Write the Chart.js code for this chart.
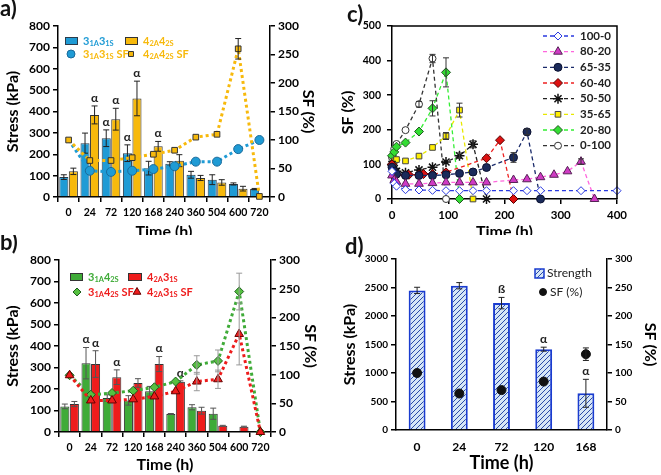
<!DOCTYPE html>
<html>
<head>
<meta charset="utf-8">
<script src="https://cdn.jsdelivr.net/npm/chart.js@4/dist/chart.umd.min.js"></script>
<style>
html, body { margin: 0; padding: 0; background: #fff; }
body { width: 661px; height: 475px; position: relative; overflow: hidden; }
.p { position: absolute; background: #fff; }
canvas { display: block; }
</style>
</head>
<body>
<div class="p" style="left:0;top:0;width:330px;height:250px"><canvas id="ca" width="330" height="250"></canvas></div>
<div class="p" style="left:330px;top:0;width:331px;height:250px"><canvas id="cc" width="331" height="250"></canvas></div>
<div class="p" style="left:0;top:235px;width:330px;height:240px"><canvas id="cb" width="330" height="240"></canvas></div>
<div class="p" style="left:330px;top:235px;width:331px;height:240px"><canvas id="cd" width="331" height="240"></canvas></div>
<script>
// ---- data: panel a ----
const times = ['0', '24', '72', '120', '168', '240', '360', '504', '600', '720'];
const a31Stress = [93, 252, 275, 205, 135, 155, 104, 81, 61, 37];
const a31Err = [11, 47, 39, 39, 32, 10, 16, 23, 5, 3];
const a31Marks = ['', '', 'α', 'α', '', '', '', '', '', ''];
const a42Stress = [120, 384, 364, 461, 237, 170, 89, 68, 39, 0];
const a42Err = [15, 42, 51, 81, 23, 28, 12, 13, 11, 0];
const a42Marks = ['', 'α', 'α', 'α', 'α', '', '', '', '', ''];
const a31Sf = [100, 46, 44, 46, 49, 54, 62, 62, 84, 100];
const a42Sf = [100, 64, 64, 69, 75, 82, 105, 110, 260, 1];
const a42SfErr = [0, 0, 0, 0, 0, 0, 0, 0, 18, 0];

// ---- data: panel b ----
const b31Stress = [119, 320, 158, 147, 189, 84, 115, 85, 0, 0];
const b31Err = [11, 73, 15, 22, 23, 2, 12, 26, 0, 0];
const b31Marks = ['', 'α', '', '', '', '', '', '', '', ''];
const b42Stress = [130, 316, 255, 228, 316, 234, 99, 29, 25, 0];
const b42Err = [12, 62, 34, 20, 35, 4, 16, 2, 2, 0];
const b42Marks = ['', 'α', 'α', '', 'α', 'α', '', '', '', ''];
const b31Sf = [99, 65, 68, 72, 78, 88, 117, 124, 245, 0];
const b31SfErr = [0, 0, 0, 0, 0, 0, 16, 19, 32, 0];
const b42Sf = [99, 55, 55, 57, 62, 71, 88, 92, 171, 0];
const b42SfErr = [0, 0, 0, 0, 0, 0, 16, 16, 54, 0];

// ---- data: panel c ----
const c100_0_t = [0, 4, 8, 24, 48, 72, 96, 120, 144, 168, 216, 240, 264, 336, 400];
const c100_0_sf = [80, 45, 37, 27, 26, 25, 24, 24, 24, 24, 24, 24, 24, 24, 24];
const c80_20_t = [0, 4, 8, 24, 48, 72, 96, 120, 144, 168, 216, 240, 264, 288, 312, 336, 360];
const c80_20_sf = [68, 55, 50, 44, 44, 46, 48, 48, 48, 48, 55, 57, 63, 70, 80, 108, 0];
const c80_20_err = [0, 0, 0, 0, 0, 0, 0, 0, 0, 0, 0, 0, 0, 0, 0, 8, 0];
const c65_35_t = [0, 4, 8, 24, 48, 72, 96, 120, 144, 168, 216, 240, 264];
const c65_35_sf = [92, 80, 72, 68, 68, 68, 70, 74, 78, 91, 120, 194, 0];
const c65_35_err = [0, 0, 0, 0, 0, 0, 0, 0, 0, 0, 14, 8, 0];
const c60_40_t = [0, 4, 8, 24, 30, 48, 56, 72, 96, 168, 192, 216];
const c60_40_sf = [100, 82, 70, 68, 70, 70, 72, 72, 77, 118, 170, 0];
const c50_50_t = [0, 4, 8, 24, 48, 72, 96, 120, 144, 168];
const c50_50_sf = [100, 88, 80, 76, 84, 92, 107, 125, 158, 0];
const c50_50_err = [0, 0, 0, 0, 0, 0, 0, 8, 10, 0];
const c35_65_t = [0, 4, 8, 24, 48, 72, 96, 120, 144];
const c35_65_sf = [100, 110, 114, 110, 124, 149, 182, 257, 0];
const c35_65_err = [0, 0, 0, 0, 0, 0, 10, 20, 0];
const c20_80_t = [0, 4, 8, 24, 48, 72, 96, 120];
const c20_80_sf = [125, 136, 151, 163, 195, 262, 366, 0];
const c20_80_err = [0, 0, 0, 0, 0, 22, 42, 0];
const c0_100_t = [0, 4, 8, 24, 48, 72, 96];
const c0_100_sf = [120, 145, 159, 199, 274, 406, 0];
const c0_100_err = [0, 0, 0, 0, 8, 12, 0];

// ---- data: panel d ----
const dTimes = ['0', '24', '72', '120', '168'];
const dStress = [2449, 2531, 2226, 1418, 644];
const dErr = [55, 55, 100, 35, 245];
const dMarks = ['', '', 'ß', 'α', 'α'];
const dSf = [100, 64, 70, 85, 133];
const dSfErr = [0, 0, 0, 0, 11];

const FONT = 'Lato, "Liberation Sans", sans-serif';

function tf(size) { return {family: FONT, size: size, weight: 'bold'}; }
function ttl(size) { return {family: FONT, size: size, weight: 'bold', lineHeight: 1.2}; }

function valueAxis(pos, max, step, width, text, pad, tsize, titleSize, padTick) {
  return {
    type: 'linear', position: pos, min: 0, max: max,
    ticks: {stepSize: step, color: '#000', font: tf(tsize), padding: padTick || 3, callback: v => String(v)},
    grid: {drawOnChartArea: false, tickLength: 5, color: '#000', lineWidth: 1.5},
    border: {color: '#000', width: 1.5},
    title: {display: true, text: text, color: '#000', font: ttl(titleSize || 16), padding: {top: pad, bottom: 0}},
    afterFit: function (s) { s.width = width; }
  };
}

function timeAxis(height, pad, tickLen, tsize, tickPad, titleSize) {
  return {
    ticks: {color: '#000', font: tf(tsize), autoSkip: false, maxRotation: 0, padding: tickPad},
    grid: {drawOnChartArea: false, drawTicks: tickLen > 0, tickLength: tickLen, color: '#000', lineWidth: 1.5},
    border: {color: '#000', width: 1.5},
    title: {display: true, text: 'Time (h)', color: '#000', font: ttl(titleSize || 16), padding: {top: 0, bottom: pad}},
    afterFit: function (s) { s.height = height; }
  };
}

// error bars and the α / ß notes, drawn right after each dataset
const errorBars = {
  id: 'errorBars',
  afterDatasetDraw(chart, args) {
    const ds = chart.data.datasets[args.index];
    if (!ds.errors && !ds.marks) return;
    const ctx = chart.ctx;
    const ys = chart.scales[args.meta.yAxisID];
    ctx.save();
    args.meta.data.forEach((el, i) => {
      const raw = ds.data[i];
      const v = typeof raw === 'object' ? raw.y : raw;
      const e = ds.errors ? (ds.errors[i] || 0) : 0;
      let top = ys.getPixelForValue(v);
      if (e) {
        top = ys.getPixelForValue(v + e);
        const bot = ys.getPixelForValue(Math.max(v - e, 0));
        ctx.strokeStyle = ds.errColor || '#222';
        ctx.lineWidth = 1;
        ctx.beginPath();
        ctx.moveTo(el.x, top); ctx.lineTo(el.x, bot);
        ctx.moveTo(el.x - 3, top); ctx.lineTo(el.x + 3, top);
        ctx.moveTo(el.x - 3, bot); ctx.lineTo(el.x + 3, bot);
        ctx.stroke();
      }
      if (ds.marks && ds.marks[i]) {
        ctx.fillStyle = '#222';
        ctx.font = 'bold 12px ' + FONT;
        ctx.textAlign = 'center';
        ctx.textBaseline = 'bottom';
        ctx.fillText(ds.marks[i], el.x, top - 2);
      }
    });
    ctx.restore();
  }
};

// text with subscripts written as 3_{1A}
function drawRich(ctx, s, x, y, size) {
  const parts = s.split(/_\{([^}]*)\}/);
  let cx = x;
  ctx.textAlign = 'left';
  ctx.textBaseline = 'middle';
  parts.forEach((t, k) => {
    if (!t) return;
    const sub = k % 2 === 1;
    ctx.font = 'bold ' + (sub ? size * 0.68 : size) + 'px ' + FONT;
    ctx.fillText(t, cx, sub ? y + size * 0.22 : y);
    cx += ctx.measureText(t).width;
  });
}

function marker(ctx, style, x, y, r, fill, edge, bw) {
  ctx.save();
  ctx.fillStyle = fill;
  ctx.strokeStyle = edge;
  ctx.lineWidth = bw;
  Chart.helpers.drawPoint(ctx, {pointStyle: style, radius: r, rotation: 0, borderWidth: bw}, x, y);
  ctx.restore();
}

function swatch(ctx, x, y, w, h, fill, edge) {
  ctx.fillStyle = fill;
  ctx.fillRect(x, y, w, h);
  ctx.strokeStyle = edge;
  ctx.lineWidth = 1;
  ctx.strokeRect(x + 0.5, y + 0.5, w - 1, h - 1);
}

function decor(letter, lx, ly, legend) {
  return {
    id: 'decor',
    afterDraw(chart) {
      const ctx = chart.ctx;
      ctx.save();
      ctx.fillStyle = '#111';
      ctx.font = 'bold 22px ' + FONT;
      ctx.textAlign = 'left';
      ctx.textBaseline = 'middle';
      ctx.fillText(letter, lx, ly);
      if (legend) legend(ctx, chart);
      ctx.restore();
    }
  };
}

const baseOpts = {
  responsive: false, animation: false, devicePixelRatio: 1,
  plugins: {legend: {display: false}, tooltip: {enabled: false}}
};

// ---------- panel a ----------
const blueA = '#1f9bd5', goldA = '#f7b90c';
new Chart(document.getElementById('ca'), {
  type: 'bar',
  data: {
    labels: times,
    datasets: [
      {type: 'line', data: a42Sf, errors: a42SfErr, yAxisID: 'y1', order: 1, borderColor: goldA, borderWidth: 3, borderDash: [3, 3],
       pointStyle: 'rect', pointRadius: 4, pointBackgroundColor: goldA, pointBorderColor: '#333', pointBorderWidth: 1, clip: 8},
      {type: 'line', data: a31Sf, yAxisID: 'y1', order: 2, borderColor: blueA, borderWidth: 3, borderDash: [3, 3],
       pointStyle: 'circle', pointRadius: c => (c.dataIndex === 0 ? 0 : 4.5), pointBackgroundColor: blueA, pointBorderColor: '#1a6a9a', pointBorderWidth: 1, clip: 8},
      {data: a31Stress, errors: a31Err, marks: a31Marks, yAxisID: 'y', order: 3, backgroundColor: blueA, borderColor: '#2b3b4b', borderWidth: 1,
       categoryPercentage: 0.9, barPercentage: 0.95},
      {data: a42Stress, errors: a42Err, marks: a42Marks, yAxisID: 'y', order: 3, backgroundColor: goldA, borderColor: '#333', borderWidth: 1,
       categoryPercentage: 0.9, barPercentage: 0.95}
    ]
  },
  options: Object.assign({}, baseOpts, {
    layout: {padding: {top: 26, left: 0, right: 0, bottom: 0}},
    scales: {
      x: timeAxis(53, 8.4, 5, 10.5, 4),
      y: valueAxis('left', 800, 100, 58, 'Stress (kPa)', 3.4, 12),
      y1: valueAxis('right', 300, 50, 60, 'SF (%)', 12.4, 12)
    }
  }),
  plugins: [errorBars, decor('a)', 0, 9, function (ctx) {
    swatch(ctx, 65, 37, 13, 8, blueA, '#2b3b4b');
    drawRich(ctx, '3_{1A}3_{1S}', 83, 41, 11);
    swatch(ctx, 125, 37, 13, 8, goldA, '#333');
    drawRich(ctx, '4_{2A}4_{2S}', 143, 41, 11);
    marker(ctx, 'circle', 71, 54, 4, blueA, '#1a6a9a', 1);
    drawRich(ctx, '3_{1A}3_{1S} SF', 83, 54, 11);
    marker(ctx, 'rect', 131, 54, 3.5, goldA, '#333', 1);
    drawRich(ctx, '4_{2A}4_{2S} SF', 143, 54, 11);
  })]
});

// ---------- panel b ----------
const greenB = '#3fab38', redB = '#ee1c1c';
new Chart(document.getElementById('cb'), {
  type: 'bar',
  data: {
    labels: times,
    datasets: [
      {type: 'line', data: b42Sf, errors: b42SfErr, errColor: '#999', yAxisID: 'y1', order: 1, borderColor: redB, borderWidth: 3, borderDash: [3, 3],
       pointStyle: 'triangle', pointRadius: 5, pointBackgroundColor: redB, pointBorderColor: '#660000', pointBorderWidth: 1, clip: 8},
      {type: 'line', data: b31Sf, errors: b31SfErr, errColor: '#999', yAxisID: 'y1', order: 2, borderColor: greenB, borderWidth: 3, borderDash: [3, 3],
       pointStyle: 'rectRot', pointRadius: 4.5, pointBackgroundColor: '#55c040', pointBorderColor: '#1d5e1d', pointBorderWidth: 1, clip: 8},
      {data: b31Stress, errors: b31Err, errColor: '#555', marks: b31Marks, yAxisID: 'y', order: 3, backgroundColor: greenB, borderColor: '#333', borderWidth: 1,
       categoryPercentage: 0.9, barPercentage: 0.95},
      {data: b42Stress, errors: b42Err, errColor: '#555', marks: b42Marks, yAxisID: 'y', order: 3, backgroundColor: redB, borderColor: '#333', borderWidth: 1,
       categoryPercentage: 0.9, barPercentage: 0.95}
    ]
  },
  options: Object.assign({}, baseOpts, {
    layout: {padding: {top: 25, left: 0, right: 0, bottom: 0}},
    scales: {
      x: timeAxis(43, 0.4, 5, 10.5, 4),
      y: valueAxis('left', 800, 100, 59, 'Stress (kPa)', 3.7, 12),
      y1: valueAxis('right', 300, 50, 59, 'SF (%)', 10.4, 12)
    }
  }),
  plugins: [errorBars, decor('b)', 0, 8, function (ctx) {
    swatch(ctx, 70, 38, 13, 8, greenB, '#333');
    drawRich(ctx, '3_{1A}4_{2S}', 88, 42, 11);
    swatch(ctx, 128, 38, 14, 8, redB, '#333');
    drawRich(ctx, '4_{2A}3_{1S}', 147, 42, 11);
    marker(ctx, 'rectRot', 77, 57, 4, '#55c040', '#1d5e1d', 1);
    drawRich(ctx, '3_{1A}4_{2S} SF', 88, 57, 11);
    marker(ctx, 'triangle', 137, 57, 4.5, redB, '#660000', 1);
    drawRich(ctx, '4_{2A}3_{1S} SF', 147, 57, 11);
  })]
});

// ---------- panel c ----------
const cSeries = [
  {label: '100-0', t: c100_0_t, sf: c100_0_sf, line: '#2a3ae0', style: 'rectRot', fill: '#ffffff', edge: '#2a3ae0', r: 4},
  {label: '80-20', t: c80_20_t, sf: c80_20_sf, err: c80_20_err, line: '#ff66dd', style: 'triangle', fill: '#d03ac4', edge: '#552255', r: 5},
  {label: '65-35', t: c65_35_t, sf: c65_35_sf, err: c65_35_err, line: '#1a2a6a', style: 'circle', fill: '#1a2a5a', edge: '#0a1030', r: 4},
  {label: '60-40', t: c60_40_t, sf: c60_40_sf, line: '#ee2222', style: 'rectRot', fill: '#dd1111', edge: '#550000', r: 4.5},
  {label: '50-50', t: c50_50_t, sf: c50_50_sf, err: c50_50_err, line: '#222222', style: 'star', fill: '#111111', edge: '#111111', r: 5},
  {label: '35-65', t: c35_65_t, sf: c35_65_sf, err: c35_65_err, line: '#e8e800', style: 'rect', fill: '#ffee00', edge: '#444444', r: 4},
  {label: '20-80', t: c20_80_t, sf: c20_80_sf, err: c20_80_err, line: '#33ee33', style: 'rectRot', fill: '#33dd33', edge: '#225522', r: 4.5},
  {label: '0-100', t: c0_100_t, sf: c0_100_sf, err: c0_100_err, line: '#333333', style: 'circle', fill: '#ffffff', edge: '#333333', r: 3.5}
];

new Chart(document.getElementById('cc'), {
  type: 'line',
  data: {
    datasets: cSeries.map(s => ({
      label: s.label,
      data: s.t.map((t, i) => ({x: t, y: s.sf[i]})),
      errors: s.err, errColor: '#333',
      borderColor: s.line, borderWidth: 1.3, borderDash: [4, 3],
      pointStyle: s.style, pointRadius: s.r, pointBackgroundColor: s.fill,
      pointBorderColor: s.edge, pointBorderWidth: s.style === 'star' ? 1.5 : 1, clip: 8
    }))
  },
  options: Object.assign({}, baseOpts, {
    layout: {padding: {top: 26, left: 0, right: 44, bottom: 0}},
    scales: {
      x: Object.assign(timeAxis(51, 8.4, 5, 11.5, 4), {type: 'linear', min: 0, max: 400, ticks: {stepSize: 100, color: '#000', font: tf(11.5), maxRotation: 0, padding: 4}}),
      y: valueAxis('left', 500, 100, 62, 'SF (%)', 8.4, 10.5, 16, 6)
    }
  }),
  plugins: [errorBars, {
    id: 'box',
    afterDraw(chart) {
      const ctx = chart.ctx, a = chart.chartArea;
      ctx.save();
      ctx.strokeStyle = '#000';
      ctx.lineWidth = 1.5;
      ctx.beginPath();
      ctx.moveTo(a.left, a.top); ctx.lineTo(a.right, a.top); ctx.lineTo(a.right, a.bottom);
      ctx.stroke();
      ctx.restore();
    }
  }, decor('c)', 17, 15, function (ctx) {
    const rows = [36, 51.7, 67.3, 83, 98.7, 114.3, 130, 145.7];
    cSeries.forEach((s, i) => {
      const y = rows[i];
      ctx.save();
      ctx.strokeStyle = s.line;
      ctx.lineWidth = 1.3;
      ctx.setLineDash([4, 3]);
      ctx.beginPath();
      ctx.moveTo(213, y); ctx.lineTo(244, y);
      ctx.stroke();
      ctx.restore();
      marker(ctx, s.style, 228, y, s.r, s.fill, s.edge, s.style === 'star' ? 1.5 : 1);
      ctx.fillStyle = '#222';
      ctx.font = 'bold 11.5px ' + FONT;
      ctx.textAlign = 'left';
      ctx.textBaseline = 'middle';
      ctx.fillText(s.label, 250, y);
    });
  })]
});

// ---------- panel d ----------
function hatch() {
  const c = document.createElement('canvas');
  c.width = 5; c.height = 5;
  const g = c.getContext('2d');
  g.fillStyle = '#d6e6f6';
  g.fillRect(0, 0, 5, 5);
  g.strokeStyle = '#2a4aa8';
  g.lineWidth = 1;
  g.beginPath();
  g.moveTo(-1, 6); g.lineTo(6, -1);
  g.moveTo(-1, 1); g.lineTo(1, -1);
  g.moveTo(4, 6); g.lineTo(6, 4);
  g.stroke();
  return g.createPattern(c, 'repeat');
}
const dPattern = hatch();

new Chart(document.getElementById('cd'), {
  type: 'bar',
  data: {
    labels: dTimes,
    datasets: [
      {type: 'line', data: dSf, errors: dSfErr, yAxisID: 'y1', order: 1, showLine: false,
       pointStyle: 'circle', pointRadius: 4.5, pointBackgroundColor: '#111', pointBorderColor: '#111', clip: 8},
      {data: dStress, errors: dErr, marks: dMarks, yAxisID: 'y', order: 2, backgroundColor: dPattern, borderColor: '#1a3ccf', borderWidth: 2,
       categoryPercentage: 0.4, barPercentage: 1}
    ]
  },
  options: Object.assign({}, baseOpts, {
    layout: {padding: {top: 24, left: 0, right: 0, bottom: 0}},
    scales: {
      x: timeAxis(45, 1.2, 0, 12, 10, 18),
      y: valueAxis('left', 3000, 500, 66, 'Stress (kPa)', 10.4, 10),
      y1: valueAxis('right', 300, 50, 54, 'SF (%)', 1.4, 10)
    }
  }),
  plugins: [errorBars, decor('d)', 15, 12, function (ctx) {
    ctx.fillStyle = dPattern;
    ctx.fillRect(205, 34, 9, 9);
    ctx.strokeStyle = '#1a3ccf';
    ctx.lineWidth = 1.5;
    ctx.strokeRect(205, 34, 9, 9);
    ctx.fillStyle = '#222';
    ctx.font = '12px ' + FONT;
    ctx.textAlign = 'left';
    ctx.textBaseline = 'middle';
    ctx.fillText('Strength', 217, 38.5);
    marker(ctx, 'circle', 213, 57, 3.5, '#111', '#111', 1);
    ctx.fillStyle = '#222';
    ctx.font = '12px ' + FONT;
    ctx.fillText('SF (%)', 220, 57);
  })]
});
</script>
</body>
</html>
